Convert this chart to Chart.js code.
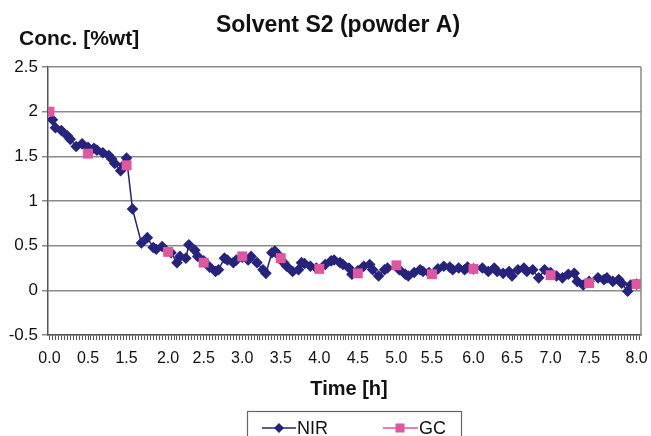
<!DOCTYPE html>
<html>
<head>
<meta charset="utf-8">
<script src="https://cdn.jsdelivr.net/npm/chart.js@4.4.1/dist/chart.umd.min.js"></script>
<style>
  html, body { margin: 0; padding: 0; background: #fff; }
</style>
</head>
<body>
<canvas id="solventChart" width="651" height="436"></canvas>
<script>
// time axis is an Excel style category axis: one category per sample,
// labels only on some of them
const nCategories = 200;
const xTickLabels = ['0.0','0.5','1.5','2.0','2.5','3.0','3.5','4.0','4.5','5.0','5.5','6.0','6.5','7.0','7.5','8.0'];
const xTickIdx = [0,13,26,40,52,65,78,91,104,117,129,143,156,169,182,198];

const nirIdx = [1,2,4,6,7,9,11,13,15,16,
  18,20,21,22,24,25,26,28,31,33,
  35,36,38,41,43,44,46,47,49,50,
  52,54,56,57,59,60,62,63,65,67,
  68,70,72,73,75,76,77,79,80,82,
  84,85,86,88,90,93,95,96,98,99,
  101,102,104,106,108,109,111,113,114,118,
  120,121,123,125,126,128,131,133,135,136,
  138,140,141,143,146,148,150,151,153,155,
  156,158,160,161,163,165,167,169,171,173,
  175,177,178,180,182,185,187,188,190,192,
  193,195,196,198];
const nirConc = [1.91,1.82,1.79,1.73,1.69,1.61,1.64,1.60,1.59,1.57,
  1.54,1.51,1.47,1.42,1.34,1.40,1.48,0.91,0.53,0.59,
  0.48,0.46,0.49,0.42,0.31,0.38,0.36,0.51,0.45,0.38,
  0.33,0.26,0.21,0.23,0.36,0.34,0.31,0.34,0.37,0.34,
  0.38,0.31,0.23,0.19,0.42,0.44,0.40,0.31,0.27,0.21,
  0.23,0.31,0.30,0.27,0.25,0.29,0.33,0.34,0.31,0.29,
  0.25,0.18,0.22,0.27,0.29,0.23,0.16,0.23,0.25,0.23,
  0.18,0.16,0.20,0.23,0.21,0.20,0.24,0.27,0.26,0.23,
  0.25,0.23,0.26,0.24,0.25,0.21,0.25,0.21,0.19,0.21,
  0.16,0.23,0.25,0.21,0.23,0.14,0.23,0.20,0.16,0.14,
  0.18,0.19,0.10,0.06,0.10,0.14,0.12,0.14,0.10,0.12,
  0.08,-0.01,0.06,0.07];

const gcIdx = [0,13,26,40,52,65,78,91,104,117,129,143,169,182,198];
const gcConc = [2.00,1.53,1.40,0.43,0.31,0.38,0.36,0.24,0.19,0.28,0.18,0.24,0.17,0.08,0.07];

const NAVY = '#25237c';
const PINK = '#e2559f';
const FONT = '"Liberation Sans", Arial, sans-serif';

const decor = {
  id: 'decor',
  afterDraw(chart) {
    const ctx = chart.ctx;
    const a = chart.chartArea;
    ctx.save();
    // right frame line
    ctx.strokeStyle = '#8a8a8a';
    ctx.lineWidth = 1.5;
    ctx.beginPath();
    ctx.moveTo(a.right, a.top);
    ctx.lineTo(a.right, a.bottom);
    ctx.stroke();

    ctx.fillStyle = '#111';
    ctx.textBaseline = 'middle';
    ctx.font = 'bold 23px ' + FONT;
    ctx.textAlign = 'center';
    ctx.fillText('Solvent S2 (powder A)', 338, 26);
    ctx.font = 'bold 21px ' + FONT;
    ctx.textAlign = 'left';
    ctx.fillText('Conc. [%wt]', 19, 39);
    ctx.font = 'bold 20px ' + FONT;
    ctx.textAlign = 'center';
    ctx.fillText('Time [h]', 349, 389);

    // legend box
    ctx.strokeStyle = '#666';
    ctx.lineWidth = 1.2;
    ctx.strokeRect(247.5, 411.5, 214, 40);
    const ly = 428;
    ctx.lineWidth = 1.5;
    ctx.strokeStyle = NAVY;
    ctx.beginPath(); ctx.moveTo(262, ly); ctx.lineTo(296, ly); ctx.stroke();
    ctx.fillStyle = NAVY;
    ctx.beginPath();
    ctx.moveTo(279, ly - 5); ctx.lineTo(284, ly); ctx.lineTo(279, ly + 5); ctx.lineTo(274, ly);
    ctx.closePath(); ctx.fill();
    ctx.strokeStyle = PINK;
    ctx.beginPath(); ctx.moveTo(383, ly); ctx.lineTo(418, ly); ctx.stroke();
    ctx.fillStyle = PINK;
    ctx.fillRect(395.5, ly - 4.5, 9, 9);
    ctx.fillStyle = '#111';
    ctx.font = '18px ' + FONT;
    ctx.textAlign = 'left';
    ctx.fillText('NIR', 297, ly + 1);
    ctx.fillText('GC', 419, ly + 1);
    ctx.restore();
  }
};

new Chart(document.getElementById('solventChart'), {
  type: 'line',
  data: {
    datasets: [{
      label: 'GC',
      data: gcIdx.map((x, i) => ({ x: x, y: gcConc[i] })),
      showLine: false,
      pointStyle: 'rect',
      pointRadius: 7,
      pointBackgroundColor: PINK,
      pointBorderWidth: 0,
      order: 0
    }, {
      label: 'NIR',
      data: nirIdx.map((x, i) => ({ x: x, y: nirConc[i] })),
      borderColor: NAVY,
      borderWidth: 1.5,
      pointStyle: 'rectRot',
      pointRadius: 5.8,
      pointBackgroundColor: NAVY,
      pointBorderWidth: 0,
      tension: 0,
      order: 1
    }]
  },
  options: {
    responsive: false,
    animation: false,
    layout: { padding: { top: 67, right: 10, left: 0, bottom: 0 } },
    plugins: { legend: { display: false }, tooltip: { enabled: false }, title: { display: false } },
    scales: {
      x: {
        type: 'linear',
        min: -0.5,
        max: nCategories - 0.5,
        afterBuildTicks: (scale) => {
          scale.ticks = Array.from({ length: nCategories }, (_, i) => ({ value: i }));
        },
        afterFit: (scale) => { scale.height = 101; },
        ticks: {
          autoSkip: false,
          maxRotation: 0,
          minRotation: 0,
          padding: 9,
          color: '#111',
          font: { family: FONT, size: 16 },
          callback: (v) => {
            const k = xTickIdx.indexOf(v);
            return k >= 0 ? xTickLabels[k] : '';
          }
        },
        grid: { drawOnChartArea: false, tickLength: 5, color: '#555', lineWidth: 1 },
        border: { color: '#555', width: 1.5 }
      },
      y: {
        min: -0.5,
        max: 2.5,
        afterFit: (scale) => { scale.width = 48; },
        ticks: {
          stepSize: 0.5,
          padding: 4,
          color: '#111',
          font: { family: FONT, size: 17 },
          callback: (v) => String(Number(v.toFixed(1)))
        },
        grid: { color: '#8a8a8a', lineWidth: 1.5, tickLength: 6 },
        border: { color: '#555', width: 1.5 }
      }
    }
  },
  plugins: [decor]
});
</script>
</body>
</html>
